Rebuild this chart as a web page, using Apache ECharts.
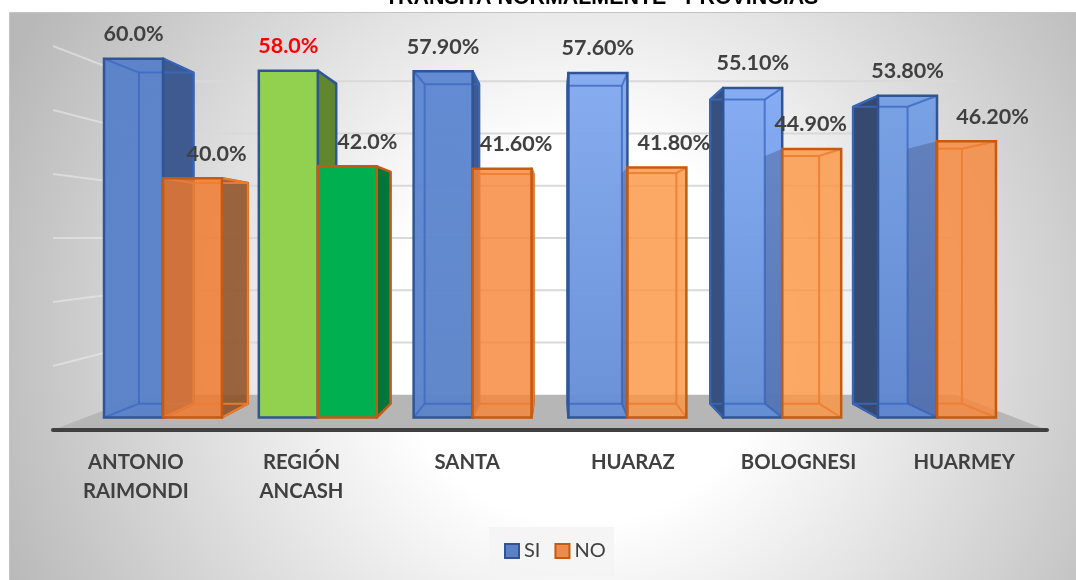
<!DOCTYPE html>
<html>
<head>
<meta charset="utf-8">
<style>html,body{margin:0;padding:0;background:#fff}#c{width:1076px;height:580px}</style>
<script src="https://cdn.jsdelivr.net/npm/echarts@6/dist/echarts.min.js"></script>
</head>
<body>
<div id="c"></div>
<script>
// ---- data ----
const titleText = 'TRANSITA NORMALMENTE - PROVINCIAS';
const categories = ['ANTONIO\nRAIMONDI', 'REGIÓN\nANCASH', 'SANTA', 'HUARAZ', 'BOLOGNESI', 'HUARMEY'];
const siValues = [60.0, 58.0, 57.9, 57.6, 55.1, 53.8];
const noValues = [40.0, 42.0, 41.6, 41.8, 44.9, 46.2];
const siLabels = ['60.0%', '58.0%', '57.90%', '57.60%', '55.10%', '53.80%'];
const noLabels = ['40.0%', '42.0%', '41.60%', '41.80%', '44.90%', '46.20%'];
const wallTicks = [0, 10, 20, 30, 40, 50, 60];

// ---- styles, per category ----
const siFill = [['#5a82c8', '#5a82c8'], ['#92d050', '#92d050'], ['#5f88d2', '#5c84c8'],
                ['#84abf0', '#668dd5'], ['#83abf4', '#628dd4'], ['#76a0e4', '#5e86cf']];
const noFill = ['#f0772a', '#00b050', '#f6863a', '#fc9644', '#fc9644', '#f8873a'];
const noAlpha = [0.82, 1, 0.82, 0.82, 0.82, 0.82];
const siAlpha = [0.97, 1, 0.97, 0.97, 0.97, 0.97];
const siSide = ['#3f5a8e', '#60862f', '#3f5a8e', '#3f5a8e', '#38507e', '#364a70'];
const noSide = ['rgba(140,78,32,0.85)', '#00763a', '#c55a11', '#c55a11', '#c55a11', '#c55a11'];
const noLabelShift = [24, 20, 14, 17, -1, 26];
const siLabelColor = ['#404040', '#ff0000', '#404040', '#404040', '#404040', '#404040'];
const labelFont = 'bold 21.5px Lato, "Open Sans", sans-serif';

const DEPTH_BAR = 0.9227, VANISH_BAR_X = 556;
const DEPTH_WALL = 0.816;
const BAR_BAND = 0.381;

function project(p, k, vx, vy) { return [vx + k * (p[0] - vx), vy + k * (p[1] - vy)]; }

function renderWall(params, api) {
  const v = api.value(1);
  const cs = params.coordSys;
  const vx = cs.x + cs.width / 2, vy = api.coord([0, 30])[1];
  const y = api.coord([0, v])[1];
  const a = [cs.x, y], b = [cs.x + cs.width, y];
  const a2 = project(a, DEPTH_WALL, vx, vy), b2 = project(b, DEPTH_WALL, vx, vy);
  if (v === 0) {
    return { type: 'polygon', shape: { points: [a, b, b2, a2] }, style: { fill: '#b6b6b6' } };
  }
  return { type: 'group', children: [
    { type: 'line', shape: { x1: a[0], y1: a[1], x2: a2[0], y2: a2[1] }, style: { stroke: 'rgba(236,236,236,0.55)', lineWidth: 2 } },
    { type: 'line', shape: { x1: a2[0], y1: a2[1], x2: b2[0], y2: b2[1] }, style: { stroke: '#d9d9d9', lineWidth: 2 } }
  ]};
}

function renderBar(isNo) {
  return function (params, api) {
    const i = api.value(0), v = api.value(1);
    const band = api.size([1, 0])[0], w = band * BAR_BAND;
    const cx = api.coord([i, 0])[0], y0 = api.coord([i, 0])[1], y1 = api.coord([i, v])[1];
    const xL = isNo ? cx : cx - w, xR = xL + w;
    const vy = api.coord([i, 30])[1];
    const P = p => project(p, DEPTH_BAR, VANISH_BAR_X, vy);
    const fTL = [xL, y1], fTR = [xR, y1], fBR = [xR, y0], fBL = [xL, y0];
    const bTL = P(fTL), bTR = P(fTR), bBR = P(fBR), bBL = P(fBL);
    const edge = isNo ? '#c55a11' : '#2f5597';
    const inner = isNo ? 'rgba(237,125,49,0.9)' : 'rgba(60,105,195,0.8)';
    const opaque = i === 1;
    const kids = [];
    const seg = (p, q) => ({ type: 'line', shape: { x1: p[0], y1: p[1], x2: q[0], y2: q[1] }, style: { stroke: inner, lineWidth: 2 } });
    // outward side faces
    if (bTR[0] > fTR[0]) {
      kids.push({ type: 'polygon', shape: { points: [fTR, bTR, bBR, fBR] },
        style: { fill: isNo ? noSide[i] : siSide[i], stroke: edge, lineWidth: 2.5, lineJoin: 'round' } });
    }
    const leftOut = bTL[0] < fTL[0];
    if (leftOut) {
      kids.push(isNo
        ? { type: 'polygon', shape: { points: [fTL, bTL, bBL, fBL] }, style: { fill: 'rgba(62,78,130,0.38)' } }
        : { type: 'polygon', shape: { points: [fTL, bTL, bBL, fBL] }, style: { fill: siSide[i], stroke: edge, lineWidth: 2.5, lineJoin: 'round' } });
    }
    // front fill
    const fill = isNo ? noFill[i] : {
      type: 'linear', x: 0, y: 0, x2: 0, y2: 1,
      colorStops: [{ offset: 0, color: siFill[i][0] }, { offset: 1, color: siFill[i][1] }]
    };
    kids.push({ type: 'rect', shape: { x: xL, y: y1, width: w, height: y0 - y1 },
      style: { fill: fill, opacity: isNo ? noAlpha[i] : siAlpha[i] } });
    // edges of the far box, seen through the translucent face
    if (!opaque) {
      const hideLeft = isNo && leftOut;
      const tl = hideLeft ? [fTL[0], bTL[1]] : bTL;
      const bl = hideLeft ? [fBL[0], bBL[1]] : bBL;
      kids.push(seg(tl, bTR), seg(bTR, bBR), seg(bBR, bl));
      kids.push(seg(fTR, bTR), seg(fBR, bBR));
      if (!hideLeft) {
        kids.push(seg(bTL, bBL), seg(fTL, bTL), seg(fBL, bBL));
      }
    }
    // front outline
    kids.push({ type: 'rect', shape: { x: xL, y: y1, width: w, height: y0 - y1 },
      style: { fill: 'none', stroke: edge, lineWidth: 2.5 } });
    // value label
    kids.push({ type: 'text', style: {
      text: (isNo ? noLabels : siLabels)[i],
      x: (xL + xR) / 2 + (isNo ? noLabelShift[i] : 0), y: y1 - 24.5,
      align: 'center', verticalAlign: 'middle', font: labelFont,
      fill: isNo ? '#404040' : siLabelColor[i]
    } });
    return { type: 'group', children: kids };
  };
}

const chart = echarts.init(document.getElementById('c'), null, { renderer: 'canvas' });
chart.setOption({
  animation: false,
  title: {
    text: titleText, left: 385, top: -13, padding: 0,
    textStyle: { fontFamily: '"Liberation Sans", Arial, sans-serif', fontWeight: 'bold', fontSize: 21.4, color: '#000', lineHeight: 22 }
  },
  graphic: [{
    type: 'rect', z: -10, silent: true,
    shape: { x: 9.5, y: 12.5, width: 1070, height: 572 },
    style: {
      stroke: '#c4c4c4', lineWidth: 1,
      fill: { type: 'radial', x: 0.535, y: 0.56, r: 1.1,
        colorStops: [{ offset: 0, color: '#ffffff' }, { offset: 0.3, color: '#ffffff' }, { offset: 1, color: '#b8b8b8' }] }
    }
  }],
  grid: [
    { left: 53, right: 29, top: 46, bottom: 150 },
    { left: 85.6, width: 928.8, top: 58.7, bottom: 162.5 }
  ],
  xAxis: [
    { type: 'category', gridIndex: 0, data: categories, boundaryGap: true, z: 5,
      axisTick: { show: false }, splitLine: { show: false },
      axisLine: { lineStyle: { color: '#404040', width: 4, cap: 'round' } },
      axisLabel: { interval: 0, margin: 18, lineHeight: 29, verticalAlign: 'top',
        fontFamily: 'Lato, "Open Sans", sans-serif', fontWeight: 'bold', fontSize: 20.3, color: '#404040' } },
    { type: 'category', gridIndex: 1, data: categories, show: false }
  ],
  yAxis: [
    { type: 'value', gridIndex: 0, min: 0, max: 60, show: false },
    { type: 'value', gridIndex: 1, min: 0, max: 60, show: false }
  ],
  legend: {
    left: 489, top: 527, padding: [14, 8, 15, 15], itemWidth: 14, itemHeight: 14, itemGap: 14,
    backgroundColor: 'rgba(244,244,244,0.9)', icon: 'rect', selectedMode: false,
    textStyle: { fontFamily: 'Lato, "Open Sans", sans-serif', fontSize: 20, color: '#404040' },
    data: [
      { name: 'SI', itemStyle: { color: '#5a82c8', borderColor: '#2f5597', borderWidth: 2 } },
      { name: 'NO', itemStyle: { color: '#ee8b4c', borderColor: '#c55a11', borderWidth: 2 } }
    ]
  },
  series: [
    { type: 'custom', name: 'wall', silent: true, xAxisIndex: 0, yAxisIndex: 0, z: 1,
      data: wallTicks.map(v => [0, v]), renderItem: renderWall, clip: false },
    { type: 'custom', name: 'SI', silent: true, xAxisIndex: 1, yAxisIndex: 1, z: 3, clip: false,
      data: siValues.map((v, i) => [i, v]), renderItem: renderBar(false) },
    { type: 'custom', name: 'NO', silent: true, xAxisIndex: 1, yAxisIndex: 1, z: 4, clip: false,
      data: noValues.map((v, i) => [i, v]), renderItem: renderBar(true) }
  ]
});
</script>
</body>
</html>
